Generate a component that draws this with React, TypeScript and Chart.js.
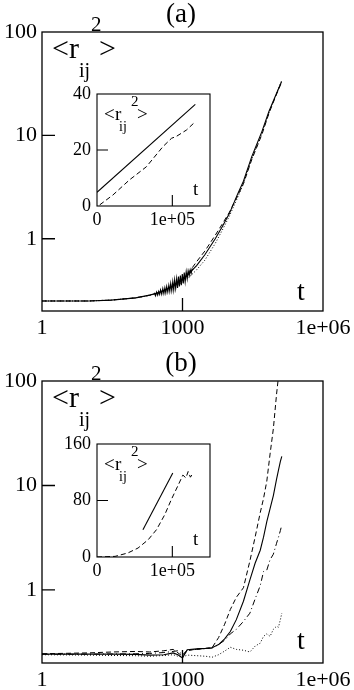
import React, { useEffect, useRef } from "react";
import { Chart, registerables } from "chart.js";

Chart.register(...registerables);

const SERIF = '"Liberation Serif", "DejaVu Serif", "Times New Roman", serif';

// ---------- Panel (a), main log-log plot ----------
const tA = [1, 3, 10, 30, 100, 200, 300, 500, 700, 1000, 1500, 2000, 3000, 5000, 7000, 10000, 15000, 20000, 30000, 50000, 70000, 100000, 130000];
const aSolid = [0.25, 0.25, 0.25, 0.255, 0.268, 0.285, 0.3, 0.33, 0.36, 0.4, 0.48, 0.55, 0.7, 1.0, 1.3, 1.75, 2.7, 3.6, 6.2, 11, 17, 25, 33];
const aDashed = [0.25, 0.25, 0.25, 0.255, 0.268, 0.285, 0.3, 0.33, 0.36, 0.41, 0.5, 0.6, 0.76, 1.08, 1.38, 1.8, 2.6, 3.4, 5.8, 10.3, 16.3, 24.5, 32.5];
const aDotted = [0.25, 0.25, 0.25, 0.255, 0.268, 0.283, 0.298, 0.325, 0.35, 0.38, 0.44, 0.5, 0.62, 0.9, 1.2, 1.65, 2.5, 3.4, 5.9, 10.5, 16.5, 25, 33.5];
// noisy band of the raw simulation around t ~ 1000
const tANoise = [250, 265, 280, 295, 310, 325, 340, 360, 380, 400, 420, 440, 460, 485, 510, 535, 560, 590, 620, 650, 680, 715, 750, 785, 820, 860, 900, 945, 990, 1040, 1090, 1140, 1200, 1260, 1320, 1390, 1460, 1530, 1600, 1700];
const aNoise = [0.3, 0.28, 0.305, 0.285, 0.31, 0.29, 0.32, 0.29, 0.33, 0.295, 0.335, 0.3, 0.345, 0.305, 0.355, 0.31, 0.37, 0.315, 0.385, 0.32, 0.4, 0.33, 0.41, 0.335, 0.43, 0.345, 0.44, 0.355, 0.455, 0.37, 0.47, 0.385, 0.48, 0.41, 0.49, 0.44, 0.5, 0.46, 0.51, 0.5];

// ---------- Panel (a), inset (linear) ----------
const tAInSolid = [0, 130500];
const aInSolid = [4.9, 36.3];
const tAInDashed = [3600, 21000, 43000, 65500, 87500, 99000, 105000, 118600, 130500];
const aInDashed = [0.4, 3.9, 9.3, 14, 21.2, 24.2, 24.8, 27.1, 30.1];

// ---------- Panel (b), main log-log plot ----------
const tB = [1, 10, 32, 100, 200, 400, 630, 800, 1000, 1260, 2000, 3160, 4270, 5890, 7940, 10500, 14100, 20000, 27500, 35500, 45700, 53700, 63100, 74100, 87100, 102000, 112000, 123000, 132000];
const bSolid = [0.243, 0.243, 0.243, 0.242, 0.238, 0.24, 0.25, 0.24, 0.224, 0.268, 0.273, 0.276, 0.28, 0.3, 0.34, 0.4, 0.52, 0.78, 1.25, 1.8, 2.4, 3.2, 4.5, 6.0, 8.0, 11.5, 14, 17, 19];
const bDashed = [0.245, 0.25, 0.255, 0.258, 0.255, 0.262, 0.27, 0.25, 0.232, 0.262, 0.272, 0.276, 0.28, 0.35, 0.47, 0.65, 0.85, 1.05, 1.9, 3.2, 5.5, 7.5, 11, 20, 35, 75, 110, null, null];
const bDashDot = [0.243, 0.243, 0.244, 0.245, 0.247, 0.252, 0.258, 0.262, 0.24, 0.265, 0.27, 0.275, 0.278, 0.3, 0.33, 0.38, 0.42, 0.5, 0.6, 0.82, 1.1, 1.5, 1.55, 1.95, 2.2, 2.8, 3.2, 3.7, 4.2];
const bDotted = [0.24, 0.238, 0.236, 0.235, 0.232, 0.236, 0.24, 0.232, 0.228, 0.238, 0.235, 0.232, 0.227, 0.24, 0.26, 0.283, 0.27, 0.265, 0.255, 0.29, 0.31, 0.36, 0.38, 0.36, 0.42, 0.45, 0.44, 0.52, 0.6];

// ---------- Panel (b), inset (linear) ----------
const tBInSolid = [61000, 100600];
const bInSolid = [38.7, 119];
const tBInDashed = [0, 24000, 41000, 54500, 68000, 79000, 90000, 98500, 107000, 114000, 118000, 121000, 124000, 127000];
const bInDashed = [0, 0.9, 5.7, 12.7, 24.5, 38.7, 60, 81, 100, 116, 112, 121, 113, 118];

// ---------- Axes ----------
const mainXTicks = [1, 1000, 1000000];
const mainXLabels = ["1", "1000", "1e+06"];
const mainYTicks = [1, 10, 100];
const mainYLabels = ["1", "10", "100"];
const insetXTicks = [0, 100000];
const insetXLabels = ["0", "1e+05"];
const insetAYTicks = [0, 20, 40];
const insetAYLabels = ["0", "20", "40"];
const insetBYTicks = [0, 80, 160];
const insetBYLabels = ["0", "80", "160"];

const DASH = [5, 3];
const DOT = [1, 2];
const DASHDOT = [6, 3, 1, 3];

function pts(xs: number[], ys: (number | null)[]) {
  const out: { x: number; y: number }[] = [];
  xs.forEach((x, i) => {
    const y = ys[i];
    if (y !== null && y !== undefined) out.push({ x, y });
  });
  return out;
}

function ds(data: any[], dash: number[], width = 1) {
  return {
    data,
    borderColor: "#000",
    backgroundColor: "#000",
    borderWidth: width,
    borderDash: dash,
    pointRadius: 0,
    fill: false,
    tension: 0,
  };
}

const framePlugin = {
  id: "frame",
  afterDatasetsDraw(chart: any, _args: any, opts: any) {
    const { ctx, chartArea: a, scales } = chart;
    ctx.save();
    ctx.setLineDash([]);
    ctx.strokeStyle = "#000";
    ctx.lineWidth = opts.lineWidth;
    ctx.strokeRect(a.left, a.top, a.right - a.left, a.bottom - a.top);
    ctx.beginPath();
    for (const v of opts.xTicks) {
      const px = scales.x.getPixelForValue(v);
      ctx.moveTo(px, a.bottom);
      ctx.lineTo(px, a.bottom - opts.len);
    }
    for (const v of opts.yTicks) {
      const py = scales.y.getPixelForValue(v);
      ctx.moveTo(a.left, py);
      ctx.lineTo(a.left + opts.len, py);
    }
    ctx.stroke();
    ctx.fillStyle = "#000";
    ctx.textBaseline = "alphabetic";
    for (const it of opts.texts) {
      ctx.font = `${it.size}px ${SERIF}`;
      ctx.textAlign = it.align || "left";
      ctx.fillText(it.t, it.x, it.y);
    }
    ctx.restore();
  },
};

type Cfg = {
  datasets: any[];
  log: boolean;
  xMin: number; xMax: number; yMin: number; yMax: number;
  xTicks: number[]; xLabels: string[]; yTicks: number[]; yLabels: string[];
  padTop: number; padRight: number; yWidth: number; xHeight: number;
  fontSize: number; xPad: number; yPad: number;
  frame: any;
};

function makeChart(canvas: HTMLCanvasElement, c: Cfg) {
  const lab = (ticks: number[], labels: string[]) => (v: any) => {
    const i = ticks.findIndex((t) => Math.abs(t - Number(v)) < 1e-9 * Math.max(1, Math.abs(t)));
    return i >= 0 ? labels[i] : "";
  };
  const font = { family: SERIF, size: c.fontSize };
  return new Chart(canvas, {
    type: "line",
    data: { datasets: c.datasets },
    plugins: [framePlugin as any],
    options: {
      responsive: false,
      animation: false,
      layout: { padding: { top: c.padTop, right: c.padRight, left: 0, bottom: 0 } },
      plugins: {
        legend: { display: false },
        tooltip: { enabled: false },
        frame: c.frame,
      } as any,
      scales: {
        x: {
          type: c.log ? "logarithmic" : "linear",
          min: c.xMin,
          max: c.xMax,
          grid: { display: false, drawTicks: false },
          border: { display: false },
          ticks: { font, color: "#000", padding: c.xPad, autoSkip: false, maxRotation: 0, minRotation: 0, callback: lab(c.xTicks, c.xLabels) },
          afterBuildTicks: (s: any) => { s.ticks = c.xTicks.map((v) => ({ value: v })); },
          afterFit: (s: any) => { s.height = c.xHeight; s.paddingLeft = 0; s.paddingRight = 0; },
        } as any,
        y: {
          type: c.log ? "logarithmic" : "linear",
          min: c.yMin,
          max: c.yMax,
          grid: { display: false, drawTicks: false },
          border: { display: false },
          ticks: { font, color: "#000", padding: c.yPad, autoSkip: false, callback: lab(c.yTicks, c.yLabels) },
          afterBuildTicks: (s: any) => { s.ticks = c.yTicks.map((v) => ({ value: v })); },
          afterFit: (s: any) => { s.width = c.yWidth; s.paddingTop = 0; s.paddingBottom = 0; },
        } as any,
      },
    } as any,
  });
}

function mainTexts(dy: number, title: string) {
  return [
    { t: title, x: 181, y: 22 + dy, size: 27, align: "center" },
    { t: "<", x: 52, y: 58 + dy, size: 30 },
    { t: "r", x: 69, y: 58 + dy, size: 30 },
    { t: "ij", x: 79, y: 77 + dy, size: 20 },
    { t: "2", x: 91, y: 31 + dy, size: 21 },
    { t: ">", x: 99, y: 58 + dy, size: 30 },
    { t: "t", x: 297, y: 300 + dy, size: 28 },
  ];
}

const insetTexts = [
  { t: "<", x: 44, y: 40, size: 19 },
  { t: "r", x: 55, y: 40, size: 19 },
  { t: "ij", x: 59, y: 51, size: 14 },
  { t: "2", x: 71, y: 26, size: 15 },
  { t: ">", x: 77, y: 40, size: 19 },
  { t: "t", x: 133, y: 115, size: 19 },
];

export default function App() {
  const refA = useRef<HTMLCanvasElement>(null);
  const refAi = useRef<HTMLCanvasElement>(null);
  const refB = useRef<HTMLCanvasElement>(null);
  const refBi = useRef<HTMLCanvasElement>(null);

  useEffect(() => {
    const charts: Chart[] = [];
    charts.push(
      makeChart(refA.current!, {
        datasets: [
          ds(pts(tA, aDotted), DOT),
          ds(pts(tA, aDashed), DASH),
          ds(pts(tANoise, aNoise), [], 1.1),
          ds(pts(tA, aSolid), [], 1.1),
        ],
        log: true, xMin: 1, xMax: 1e6, yMin: 0.2, yMax: 100,
        xTicks: mainXTicks, xLabels: mainXLabels, yTicks: mainYTicks, yLabels: mainYLabels,
        padTop: 32, padRight: 31, yWidth: 42, xHeight: 345 - 311,
        fontSize: 22, xPad: 4, yPad: 5,
        frame: { lineWidth: 1.3, len: 13, xTicks: [1000], yTicks: [1, 10], texts: mainTexts(0, "(a)") },
      })
    );
    charts.push(
      makeChart(refAi.current!, {
        datasets: [ds(pts(tAInDashed, aInDashed), DASH), ds(pts(tAInSolid, aInSolid), [], 1.1)],
        log: false, xMin: 0, xMax: 150000, yMin: 0, yMax: 40,
        xTicks: insetXTicks, xLabels: insetXLabels, yTicks: insetAYTicks, yLabels: insetAYLabels,
        padTop: 14, padRight: 10, yWidth: 37, xHeight: 150 - 126,
        fontSize: 18, xPad: 3, yPad: 6,
        frame: { lineWidth: 1.1, len: 11, xTicks: [100000], yTicks: [20], texts: insetTexts },
      })
    );
    charts.push(
      makeChart(refB.current!, {
        datasets: [
          ds(pts(tB, bDotted), DOT),
          ds(pts(tB, bDashDot), DASHDOT),
          ds(pts(tB, bDashed), DASH),
          ds(pts(tB, bSolid), [], 1.1),
        ],
        log: true, xMin: 1, xMax: 1e6, yMin: 0.2, yMax: 100,
        xTicks: mainXTicks, xLabels: mainXLabels, yTicks: mainYTicks, yLabels: mainYLabels,
        padTop: 36, padRight: 31, yWidth: 42, xHeight: 345 - 318,
        fontSize: 22, xPad: 4, yPad: 5,
        frame: { lineWidth: 1.3, len: 13, xTicks: [1000], yTicks: [1, 10], texts: mainTexts(4, "(b)") },
      })
    );
    charts.push(
      makeChart(refBi.current!, {
        datasets: [ds(pts(tBInDashed, bInDashed), DASH), ds(pts(tBInSolid, bInSolid), [], 1.1)],
        log: false, xMin: 0, xMax: 150000, yMin: 0, yMax: 160,
        xTicks: insetXTicks, xLabels: insetXLabels, yTicks: insetBYTicks, yLabels: insetBYLabels,
        padTop: 14, padRight: 10, yWidth: 37, xHeight: 150 - 127,
        fontSize: 18, xPad: 3, yPad: 6,
        frame: { lineWidth: 1.1, len: 11, xTicks: [100000], yTicks: [80], texts: insetTexts },
      })
    );
    return () => charts.forEach((c) => c.destroy());
  }, []);

  const abs = (left: number, top: number, w: number, h: number): React.CSSProperties => ({
    position: "absolute", left, top, width: w, height: h, display: "block",
  });

  return (
    <div style={{ position: "absolute", left: 0, top: 0, width: 354, height: 690, background: "#fff", overflow: "hidden" }}>
      <canvas ref={refA} width={354} height={345} style={abs(0, 0, 354, 345)} />
      <canvas ref={refAi} width={160} height={150} style={abs(60, 80, 160, 150)} />
      <canvas ref={refB} width={354} height={345} style={abs(0, 345, 354, 345)} />
      <canvas ref={refBi} width={160} height={150} style={abs(60, 430, 160, 150)} />
    </div>
  );
}
